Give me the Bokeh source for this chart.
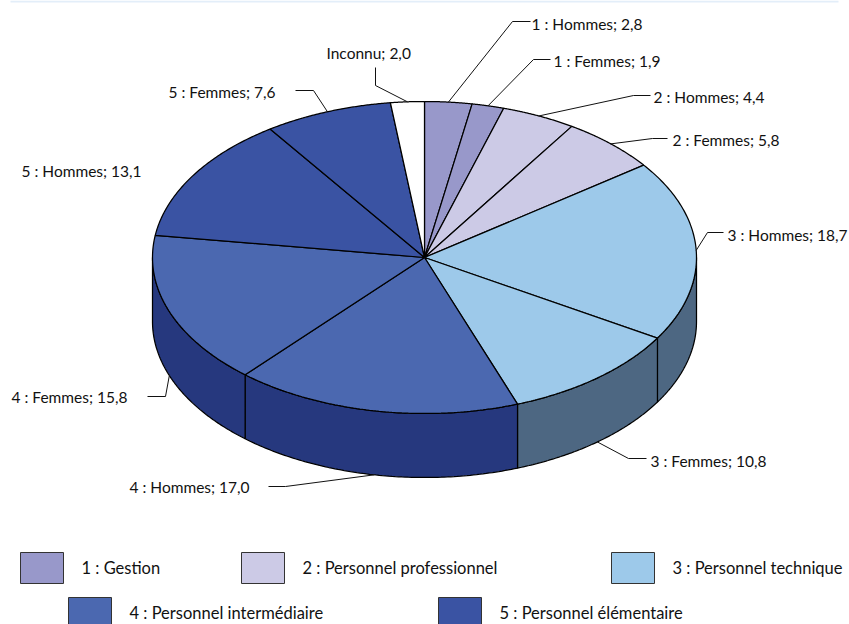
import numpy as np
from bokeh.plotting import figure
from bokeh.models import Range1d
from bokeh.core.properties import value
from bokeh.embed import file_html
from bokeh.resources import INLINE

# ---- data
slices = ["1 : Hommes", "1 : Femmes", "2 : Hommes", "2 : Femmes", "3 : Hommes", "3 : Femmes",
          "4 : Hommes", "4 : Femmes", "5 : Hommes", "5 : Femmes", "Inconnu"]
shares = [2.8, 1.9, 4.4, 5.8, 18.7, 10.8, 17.0, 15.8, 13.1, 7.6, 2.0]
groups = [1, 1, 2, 2, 3, 3, 4, 4, 5, 5, 0]
legend_names = ["1 : Gestion", "2 : Personnel professionnel", "3 : Personnel technique",
                "4 : Personnel intermédiaire", "5 : Personnel élémentaire"]

# ---- styles and layout
top_colors = {0: "#FFFFFF", 1: "#9898CA", 2: "#CCCAE6", 3: "#9DC9EA", 4: "#4B68B0", 5: "#3A53A3"}
wall_colors = {0: "#808080", 1: "#4C4C65", 2: "#666573", 3: "#4D6782", 4: "#26387E", 5: "#1D2A52"}
CX, CY, RX, RY, DEPTH = 424, 257, 272, 156, 64
FONT = value("Lato")
FS = "15.5px"
LFS = "16.5px"
INK = "#000000"
LW = 1.25
# label: text x, text y, elbow x, elbow y, stub x, stub y; a None stub means no leader
label_layout = [
    (531, 23, 512, 21, 530, 21),
    (553, 60, 533, 59, 550, 59),
    (653, 96, 633, 95, 650, 95),
    (672, 139, 652, 138, 667, 138),
    (727, 234, 707, 232, 723, 232),
    (650, 460, 628, 458, 646, 458),
    (129, 486, 285, 486, 268, 486),
    (11, 396, 165, 396, 147, 396),
    (21, 170, None, None, None, None),
    (168, 91, 313, 90, 295, 90),
    (326, 52, 375, 85, 375, 67),
]
swatches = [(20, 552), (241, 552), (611, 552), (68, 597), (438, 597)]
SW, SH = 43, 31
LEGEND_GAP = 18

p = figure(width=849, height=624, output_backend="svg", toolbar_location=None,
           x_range=Range1d(0, 849), y_range=Range1d(624, 0), min_border=0,
           outline_line_color=None)
p.axis.visible = False
p.grid.visible = False

p.quad(left=[10], right=[838], top=[0], bottom=[2], fill_color="#E3EEF9", line_color=None)

vals = np.array(shares)
edges = np.concatenate([[0], np.cumsum(vals)]) / vals.sum() * 360.0


def rim(deg):
    r = np.radians(deg)
    return CX + RX * np.sin(r), CY - RY * np.cos(r)


# walls (front half of the disc)
for i, g in enumerate(groups):
    a0, a1 = max(edges[i], 90.0), min(edges[i + 1], 270.0)
    if a1 <= a0:
        continue
    x, y = rim(np.linspace(a0, a1, 90))
    p.patch(np.r_[x, x[::-1]], np.r_[y, y[::-1] + DEPTH],
            fill_color=wall_colors[g], line_color=INK, line_width=LW)

# top faces
for i, g in enumerate(groups):
    x, y = rim(np.linspace(edges[i], edges[i + 1], 90))
    p.patch(np.r_[CX, x], np.r_[CY, y], fill_color=top_colors[g], line_color=INK, line_width=LW)

# leaders and labels
for i, name in enumerate(slices):
    tx, ty, ex, ey, sx, sy = label_layout[i]
    txt = f"{name}; {shares[i]:.1f}".replace(".", ",")
    p.text([tx], [ty], text=[txt], text_font=FONT, text_font_size=FS, text_color="#111111",
           text_baseline="middle", text_align="left")
    if ex is None:
        continue
    mid = (edges[i] + edges[i + 1]) / 2
    ax, ay = rim(mid)
    if 90 < mid < 270:
        ay += DEPTH
    p.line([ax, ex, sx], [ay, ey, sy], line_color="#111111", line_width=1)

# legend
for k, name in enumerate(legend_names):
    sx, sy = swatches[k]
    p.quad(left=[sx], right=[sx + SW], top=[sy], bottom=[sy + SH],
           fill_color=top_colors[k + 1], line_color="#333333", line_width=1)
    p.text([sx + SW + LEGEND_GAP], [sy + SH / 2], text=[name], text_font=FONT, text_font_size=LFS,
           text_color="#111111", text_baseline="middle", text_align="left")

open("out.html", "w").write(file_html(p, INLINE))
